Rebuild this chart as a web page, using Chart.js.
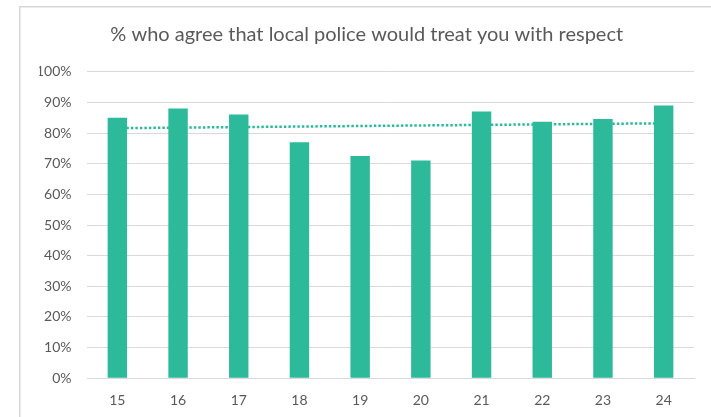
<!DOCTYPE html>
<html>
<head>
<meta charset="utf-8">
<script src="https://cdn.jsdelivr.net/npm/chart.js@4/dist/chart.umd.min.js"></script>
<style>
  body { margin: 0; background: #fff; }
  #wrap { width: 711px; height: 417px; }
</style>
</head>
<body>
<div id="wrap"><canvas id="chart" width="711" height="417"></canvas></div>
<script>
const years = ['15', '16', '17', '18', '19', '20', '21', '22', '23', '24'];
const agreeValues = [85, 88, 86, 77, 72.5, 71, 87, 83.7, 84.6, 89];
const yTicks = [0, 10, 20, 30, 40, 50, 60, 70, 80, 90, 100];

const green = '#2dba9a';
const textGrey = '#595959';
const gridGrey = '#d9d9d9';

// linear trendline (least squares, like Excel's)
const n = agreeValues.length;
const meanX = (n - 1) / 2;
const meanY = agreeValues.reduce((a, b) => a + b, 0) / n;
let sxy = 0, sxx = 0;
agreeValues.forEach((v, i) => {
    sxy += (i - meanX) * (v - meanY);
    sxx += (i - meanX) * (i - meanX);
});
const slope = sxy / sxx;
const trendValues = agreeValues.map((v, i) => meanY + slope * (i - meanX));

// chart frame like the excel border (only top/left are in view)
const framePlugin = {
    id: 'frame',
    beforeDraw(chart) {
        const ctx = chart.ctx;
        ctx.save();
        ctx.fillStyle = '#fff';
        ctx.fillRect(0, 0, chart.width, chart.height);
        ctx.strokeStyle = '#d6d6d6';
        ctx.lineWidth = 1.5;
        ctx.strokeRect(19.75, 6.75, 900, 900);
        ctx.restore();
    }
};

new Chart(document.getElementById('chart'), {
    data: {
        labels: years,
        datasets: [{
            type: 'bar',
            data: agreeValues,
            backgroundColor: green,
            borderWidth: 0,
            barPercentage: 1,
            categoryPercentage: 0.32,
            order: 1
        }, {
            type: 'line',
            data: trendValues,
            borderColor: green,
            borderWidth: 2.5,
            borderDash: [2.5, 2],
            pointRadius: 0,
            fill: false,
            order: 2
        }]
    },
    options: {
        responsive: false,
        animation: false,
        layout: { padding: { left: 39.4, right: 17, top: 10, bottom: 0 } },
        plugins: {
            legend: { display: false },
            tooltip: { enabled: false },
            title: {
                display: true,
                text: '% who agree that local police would treat you with respect',
                color: textGrey,
                font: { family: 'Lato', size: 20, weight: 'normal' },
                padding: { top: 13, bottom: 24.7 }
            }
        },
        scales: {
            x: {
                grid: { display: false },
                border: { display: true, color: gridGrey },
                ticks: {
                    color: textGrey,
                    font: { family: 'Lato', size: 14 },
                    padding: 6,
                    maxRotation: 0
                },
                afterFit(scale) { scale.height = 38.7; }
            },
            y: {
                min: 0,
                max: 100,
                afterBuildTicks(scale) { scale.ticks = yTicks.map(v => ({ value: v })); },
                grid: { color: gridGrey, drawTicks: false },
                border: { display: false },
                ticks: {
                    color: textGrey,
                    font: { family: 'Lato', size: 14 },
                    padding: 15.5,
                    callback: v => v + '%'
                },
                afterFit(scale) { scale.width = 47.6; }
            }
        }
    },
    plugins: [framePlugin]
});
</script>
</body>
</html>
